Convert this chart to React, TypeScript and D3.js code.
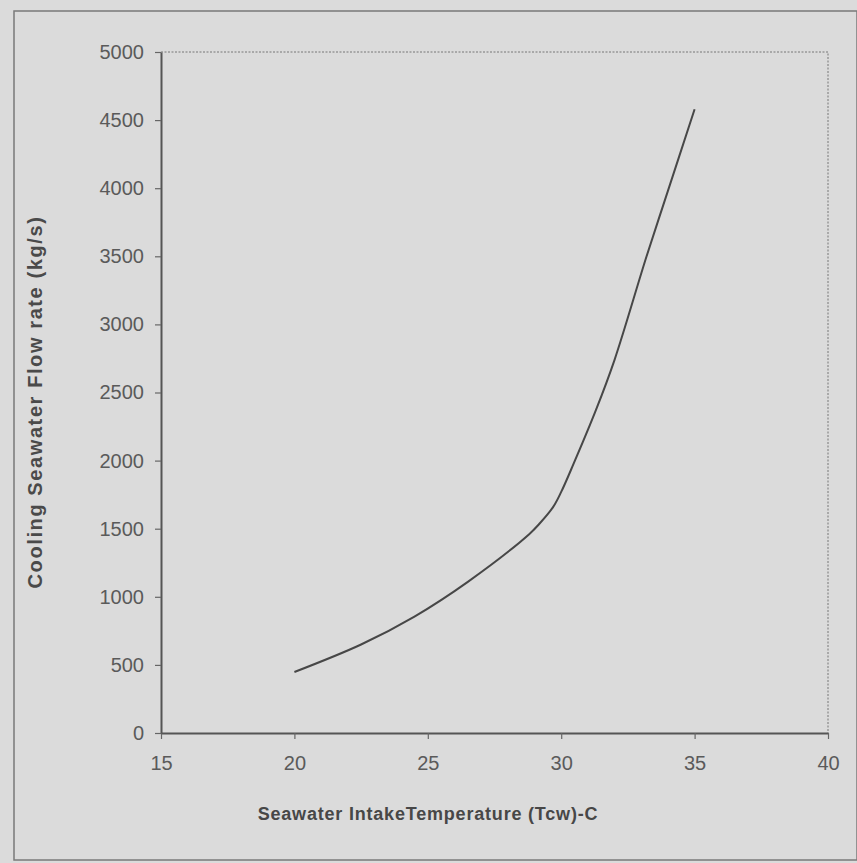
import React, { useEffect, useRef } from 'react';
import * as d3 from 'd3';

// values
const temperature = [20, 22.5, 24.5, 26.5, 28.8, 29.2, 29.7, 30, 30.45, 31.3, 32, 33.2, 34, 35];
const flowRate = [448, 650, 855, 1110, 1460, 1540, 1660, 1770, 1970, 2370, 2740, 3500, 3980, 4580];
const xTicks = [15, 20, 25, 30, 35, 40];
const yTicks = [0, 500, 1000, 1500, 2000, 2500, 3000, 3500, 4000, 4500, 5000];

const xTitle = 'Seawater IntakeTemperature (Tcw)-C';
const yTitle = 'Cooling Seawater Flow rate  (kg/s)';

const W = 857;
const H = 863;

const App = () => {
    const ref = useRef<SVGSVGElement>(null);

    useEffect(() => {
        const svg = d3.select(ref.current);
        svg.selectAll('*').remove();

        const margin = { top: 52, right: 29, bottom: 130, left: 161 };
        const width = W - margin.left - margin.right;
        const height = H - margin.top - margin.bottom;

        const xScale = d3.scaleLinear().domain([15, 40]).range([0, width]);
        const yScale = d3.scaleLinear().domain([0, 5000]).range([height, 0]);

        // scanned paper background + outer frame
        svg.append('rect').attr('width', W).attr('height', H).attr('fill', '#dbdbdb');
        svg.append('rect')
            .attr('x', 14).attr('y', 11)
            .attr('width', W - 14).attr('height', H - 14)
            .attr('fill', 'none')
            .attr('stroke', '#7a7a7a')
            .attr('stroke-width', 1.5);

        const g = svg.append('g').attr('transform', `translate(${margin.left},${margin.top})`);

        // dotted top / right frame of the plot area
        g.append('path')
            .attr('d', `M0,0H${width}V${height}`)
            .attr('fill', 'none')
            .attr('stroke', '#777')
            .attr('stroke-width', 1)
            .attr('stroke-dasharray', '2,1.5');

        const xAxis = g.append('g')
            .attr('transform', `translate(0,${height})`)
            .call(d3.axisBottom(xScale).tickValues(xTicks).tickFormat(d3.format('d')).tickSize(6).tickSizeOuter(0).tickPadding(14));

        const yAxis = g.append('g')
            .call(d3.axisLeft(yScale).tickValues(yTicks).tickFormat(d3.format('d')).tickSize(6).tickSizeOuter(0).tickPadding(11));

        [xAxis, yAxis].forEach(ax => {
            ax.select('.domain').attr('stroke', '#555').attr('stroke-width', 2);
            ax.selectAll('.tick line').attr('stroke', '#666').attr('stroke-width', 1.2);
            ax.selectAll('.tick text')
                .attr('fill', '#5a5a5a')
                .style('font-family', 'Arial, "Liberation Sans", sans-serif')
                .style('font-size', '20px');
        });
        xAxis.selectAll('.tick text').attr('dy', '0.85em');

        const line = d3.line<number>()
            .x((d, i) => xScale(temperature[i]))
            .y(d => yScale(d))
            .curve(d3.curveCatmullRom.alpha(0.5));

        g.append('path')
            .datum(flowRate)
            .attr('d', line)
            .attr('fill', 'none')
            .attr('stroke', '#474747')
            .attr('stroke-width', 2)
            .attr('stroke-linejoin', 'round');

        // axis titles
        svg.append('text')
            .attr('x', 428)
            .attr('y', 820)
            .attr('text-anchor', 'middle')
            .attr('fill', '#474747')
            .style('font-family', 'Arial, "Liberation Sans", sans-serif')
            .style('font-size', '18px')
            .style('font-weight', 'bold')
            .style('letter-spacing', '0.8px')
            .text(xTitle);

        svg.append('text')
            .attr('transform', `translate(42,402) rotate(-90)`)
            .attr('text-anchor', 'middle')
            .attr('fill', '#4a4a4a')
            .style('font-family', 'Arial, "Liberation Sans", sans-serif')
            .style('font-size', '20px')
            .style('font-weight', 'bold')
            .style('letter-spacing', '1.6px')
            .text(yTitle);
    }, []);

    return (
        <svg ref={ref} width={W} height={H} style={{ position: 'absolute', left: 0, top: 0 }}></svg>
    );
};

export default App;
